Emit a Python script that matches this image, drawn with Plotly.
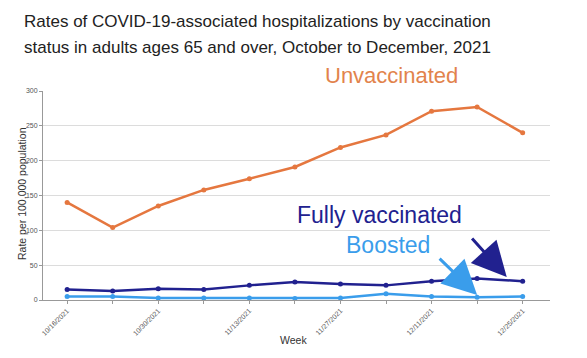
import plotly.graph_objects as go

weeks = ["10/16/2021", "10/23/2021", "10/30/2021", "11/6/2021", "11/13/2021", "11/20/2021",
         "11/27/2021", "12/4/2021", "12/11/2021", "12/18/2021", "12/25/2021"]
unvaccinated = [140, 104, 135, 158, 174, 191, 219, 237, 271, 277, 240]
fully_vaccinated = [15, 13, 16, 15, 21, 26, 23, 21, 27, 31, 27]
boosted = [5, 5, 3, 3, 3, 2, 3, 9, 5, 4, 5]
y_ticks = [0, 50, 100, 150, 200, 250, 300]

ORANGE = "#E5773F"
NAVY = "#21218F"
LIGHT = "#3A9DEB"

# page body has an 8px margin; compensate so the figure lands where the reference is
OFF = 8
W, H = 587 - OFF, 358 - OFF
PL, PT, PR, PB = 43, 91, 550, 300  # plot area in screen pixels

idx = list(range(len(weeks)))
ticktext = [w if i % 2 == 0 else "" for i, w in enumerate(weeks)]

fig = go.Figure()
for name, vals, col in [("Boosted", boosted, LIGHT),
                        ("Fully vaccinated", fully_vaccinated, NAVY),
                        ("Unvaccinated", unvaccinated, ORANGE)]:
    fig.add_trace(go.Scatter(x=idx, y=vals, mode="lines+markers", name=name,
                             line=dict(color=col, width=2.5),
                             marker=dict(color=col, size=5), cliponaxis=False))

fig.update_layout(
    width=W, height=H,
    margin=dict(l=PL - OFF, r=W - (PR - OFF), t=PT - OFF, b=H - (PB - OFF), autoexpand=False),
    paper_bgcolor="white", plot_bgcolor="white",
    showlegend=False,
    font=dict(family="Liberation Sans, Arial, sans-serif", color="#333"),
)
fig.update_xaxes(
    range=[-0.53, 10.6], tickvals=idx, ticktext=ticktext, tickangle=-45, automargin=False,
    tickfont=dict(size=7, color="#555"), ticks="outside", ticklen=3, tickcolor="#999",
    showline=True, linecolor="#999", linewidth=1, showgrid=False, zeroline=False,
)
fig.update_yaxes(
    range=[0, 300], tickvals=y_ticks, tickfont=dict(size=7, color="#555"), automargin=False,
    ticks="outside", ticklen=3, tickcolor="#999",
    showline=True, linecolor="#999", linewidth=1,
    showgrid=True, gridcolor="#dcdcdc", gridwidth=1, zeroline=False,
)

def xpaper(px):
    return (px - PL) / float(PR - PL)

def ypaper(py):
    return (PB - py) / float(PB - PT)

texts = [
    ("Rates of COVID-19-associated hospitalizations by vaccination", 22, 21, 17, "#222", "left", 0),
    ("status in adults ages 65 and over, October to December, 2021", 22, 47, 17, "#222", "left", 0),
    ("Unvaccinated", 391, 75, 22, "#E2834C", "center", 0),
    ("Fully vaccinated", 379, 215, 23, NAVY, "center", 0),
    ("Boosted", 388, 245, 23, LIGHT, "center", 0),
    ("Week", 293, 340, 10.5, "#333", "center", 0),
    ("Rate per 100,000 population", 22, 194, 10.5, "#333", "center", -90),
]
for t, px, py, size, col, anchor, ang in texts:
    fig.add_annotation(text=t, xref="paper", yref="paper",
                       x=xpaper(px), y=ypaper(py), textangle=ang,
                       xanchor=anchor, yanchor="middle", showarrow=False,
                       font=dict(size=size, color=col))

fig.add_annotation(x=9.65, y=33, xref="x", yref="y", ax=-36, ay=-40, text="",
                   showarrow=True, arrowhead=2, arrowsize=2.3, arrowwidth=3, arrowcolor=NAVY)
fig.add_annotation(x=9.0, y=7, xref="x", yref="y", ax=-39, ay=-38, text="",
                   showarrow=True, arrowhead=2, arrowsize=2.3, arrowwidth=3, arrowcolor=LIGHT)

fig.write_html("out.html")
